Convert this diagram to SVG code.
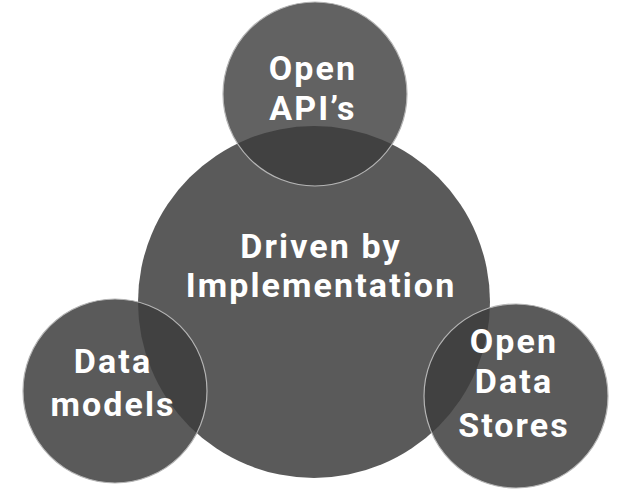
<svg xmlns="http://www.w3.org/2000/svg" width="622" height="493" viewBox="0 0 622 493">
<style>
.c{fill:#5a5a5a}
.ov{fill:#414141}
.edge{fill:none;stroke:#b5b5b5;stroke-width:1.2}
.t{fill:#ffffff;font-family:Roboto,"Liberation Sans",sans-serif;font-weight:bold;font-size:34px;letter-spacing:2.1px;text-anchor:middle}
</style>
<defs>
<clipPath id="bigclip"><circle cx="314" cy="302" r="176"/></clipPath>
</defs>
<rect width="622" height="493" fill="#ffffff"/>
<g id="center">
<circle class="c" cx="314" cy="302" r="176"/>
</g>
<g id="top">
<circle cx="315" cy="94" r="92" style="fill:#626262"/>
<circle class="ov" cx="315" cy="94" r="92" clip-path="url(#bigclip)"/>
<circle class="edge" cx="315" cy="94" r="92"/>
<text class="t" x="313" y="80">Open</text>
<text class="t" x="313" y="120">API’s</text>
</g>
<g id="left">
<circle class="c" cx="115" cy="391" r="92"/>
<circle class="ov" cx="115" cy="391" r="92" clip-path="url(#bigclip)"/>
<circle class="edge" cx="115" cy="391" r="92"/>
<text class="t" x="113" y="373">Data</text>
<text class="t" x="113" y="416">models</text>
</g>
<g id="right">
<circle class="c" cx="516" cy="396" r="92"/>
<circle class="ov" cx="516" cy="396" r="92" clip-path="url(#bigclip)"/>
<circle class="edge" cx="516" cy="396" r="92"/>
<text class="t" x="514" y="353">Open</text>
<text class="t" x="514" y="393">Data</text>
<text class="t" x="514" y="437">Stores</text>
</g>
<g id="center-label">
<text class="t" x="321" y="258">Driven by</text>
<text class="t" x="321" y="297">Implementation</text>
</g>
<g id="connectors"></g>
</svg>
